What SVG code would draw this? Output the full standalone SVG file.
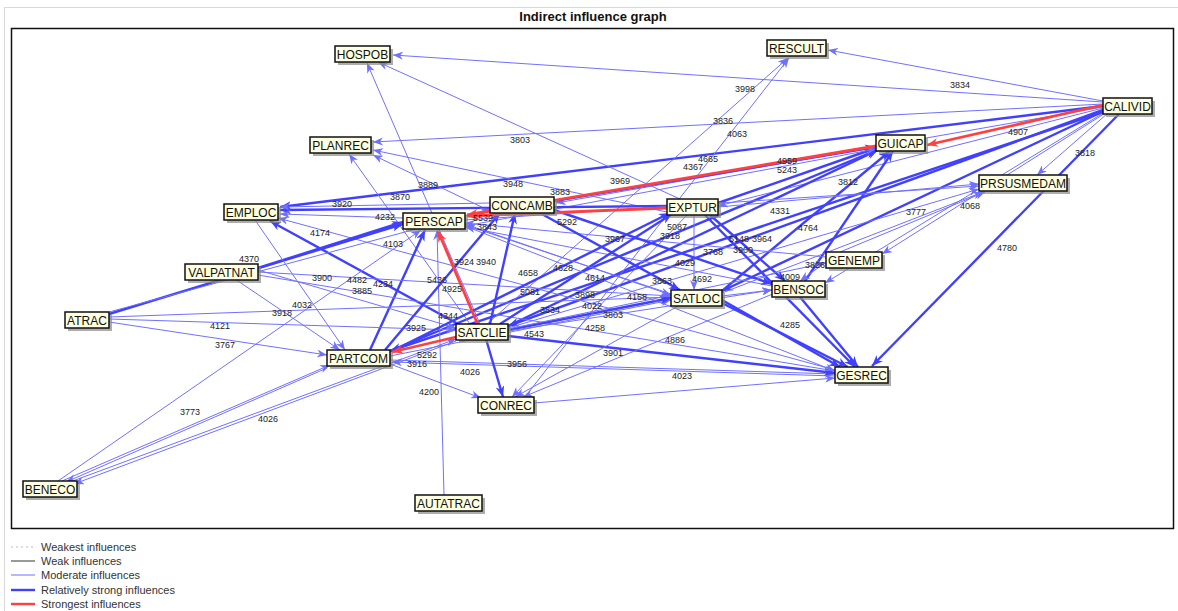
<svg xmlns="http://www.w3.org/2000/svg" width="1178" height="611" viewBox="0 0 1178 611">
<defs>
<marker id="am" markerUnits="userSpaceOnUse" markerWidth="10" markerHeight="8" viewBox="0 0 10 8" refX="10" refY="4" orient="auto"><path d="M0,0 L10,4 L0,8 L3,4 z" fill="#7070ff"/></marker>
<marker id="as" markerUnits="userSpaceOnUse" markerWidth="11" markerHeight="9" viewBox="0 0 10 8" refX="10" refY="4" orient="auto"><path d="M0,0 L10,4 L0,8 L3,4 z" fill="#4040ff"/></marker>
<marker id="ar" markerUnits="userSpaceOnUse" markerWidth="11" markerHeight="9" viewBox="0 0 10 8" refX="10" refY="4" orient="auto"><path d="M0,0 L10,4 L0,8 L3,4 z" fill="#ff4040"/></marker>
</defs>
<style>
.m{stroke:#7070ff;stroke-width:1;fill:none;marker-end:url(#am)}
.s{stroke:#4040ff;stroke-width:2.4;fill:none;marker-end:url(#as)}
.r{stroke:#ff4040;stroke-width:2.8;fill:none;marker-end:url(#ar)}
.lb{font-family:"Liberation Sans",Arial,sans-serif;font-size:9px;fill:#222;text-anchor:middle}
.sh{fill:#8a8a8a;opacity:0.7}
.bx{fill:#ffffe1;stroke:#111;stroke-width:1.5}
.nt{font-family:"Liberation Sans",Arial,sans-serif;font-size:12px;fill:#111;text-anchor:middle}
.lg{font-family:"Liberation Sans",Arial,sans-serif;font-size:11px;fill:#333}
</style>
<rect x="0" y="0" width="1178" height="611" fill="#fff"/>
<path d="M4.5,611 V7.5 H1178" fill="none" stroke="#d8d8d8" stroke-width="1"/>
<text x="593" y="21" font-family="Liberation Sans,Arial,sans-serif" font-size="13" font-weight="bold" text-anchor="middle" fill="#111">Indirect influence graph</text>
<rect x="11.5" y="28.5" width="1162" height="500" fill="#fff" stroke="#111" stroke-width="1.5"/>

<g id="connectors">
<line class="m" x1="1103" y1="101" x2="828" y2="50"/>
<line class="m" x1="1103" y1="102" x2="393" y2="55"/>
<line class="m" x1="1103" y1="104" x2="373" y2="142"/>
<line class="s" x1="1103" y1="106" x2="280" y2="207"/>
<line class="m" x1="1108" y1="113" x2="1037" y2="175"/>
<line class="s" x1="1120" y1="113" x2="872" y2="366"/>
<line class="s" x1="1103" y1="110" x2="508" y2="326"/>
<line class="s" x1="1104" y1="111" x2="722" y2="291"/>
<line class="m" x1="1103" y1="108" x2="718" y2="206"/>
<line class="m" x1="1105" y1="112" x2="825" y2="283"/>
<line class="m" x1="1107" y1="112" x2="882" y2="254"/>
<line class="m" x1="1103" y1="107" x2="556" y2="203"/>
<line class="s" x1="1103" y1="112" x2="390" y2="351"/>
<line class="s" x1="508" y1="326" x2="878" y2="150"/>
<line class="s" x1="390" y1="351" x2="877" y2="150"/>
<line class="s" x1="722" y1="291" x2="890" y2="151"/>
<line class="s" x1="718" y1="203" x2="876" y2="148"/>
<line class="s" x1="554" y1="201" x2="876" y2="147"/>
<line class="s" x1="805" y1="281" x2="893" y2="151"/>
<line class="m" x1="465" y1="226" x2="876" y2="149"/>
<line class="m" x1="680" y1="199" x2="378" y2="62"/>
<line class="m" x1="480" y1="324" x2="367" y2="63"/>
<line class="m" x1="667" y1="212" x2="373" y2="150"/>
<line class="m" x1="492" y1="212" x2="373" y2="155"/>
<line class="m" x1="470" y1="324" x2="349" y2="154"/>
<line class="m" x1="487" y1="324" x2="788" y2="58"/>
<line class="m" x1="525" y1="397" x2="789" y2="58"/>
<line class="s" x1="667" y1="206" x2="280" y2="210"/>
<line class="m" x1="490" y1="203" x2="280" y2="207"/>
<line class="m" x1="403" y1="218" x2="280" y2="214"/>
<line class="s" x1="460" y1="325" x2="270" y2="221"/>
<line class="m" x1="835" y1="370" x2="278" y2="218"/>
<line class="s" x1="109" y1="314" x2="403" y2="224"/>
<line class="s" x1="258" y1="268" x2="403" y2="222"/>
<line class="m" x1="109" y1="312" x2="490" y2="209"/>
<line class="s" x1="370" y1="350" x2="425" y2="230"/>
<line class="m" x1="444" y1="495" x2="437" y2="230"/>
<line class="m" x1="58" y1="481" x2="421" y2="230"/>
<line class="m" x1="671" y1="294" x2="465" y2="225"/>
<line class="m" x1="772" y1="286" x2="465" y2="227"/>
<line class="m" x1="826" y1="257" x2="465" y2="223"/>
<line class="m" x1="109" y1="322" x2="327" y2="355"/>
<line class="m" x1="235" y1="279" x2="340" y2="350"/>
<line class="m" x1="255" y1="220" x2="345" y2="350"/>
<line class="m" x1="62" y1="481" x2="330" y2="365"/>
<line class="m" x1="327" y1="368" x2="66" y2="482"/>
<line class="m" x1="835" y1="376" x2="392" y2="362"/>
<line class="m" x1="70" y1="482" x2="456" y2="339"/>
<line class="m" x1="456" y1="341" x2="74" y2="484"/>
<line class="m" x1="109" y1="319" x2="456" y2="330"/>
<line class="m" x1="109" y1="317" x2="671" y2="297"/>
<line class="m" x1="258" y1="272" x2="671" y2="296"/>
<line class="m" x1="258" y1="275" x2="835" y2="371"/>
<line class="m" x1="258" y1="270" x2="456" y2="328"/>
<line class="s" x1="385" y1="350" x2="500" y2="213"/>
<line class="s" x1="390" y1="352" x2="670" y2="213"/>
<line class="m" x1="390" y1="356" x2="671" y2="300"/>
<line class="m" x1="390" y1="360" x2="835" y2="374"/>
<line class="m" x1="390" y1="364" x2="481" y2="398"/>
<line class="s" x1="508" y1="330" x2="671" y2="298"/>
<line class="m" x1="508" y1="331" x2="772" y2="290"/>
<line class="m" x1="508" y1="329" x2="826" y2="263"/>
<line class="m" x1="508" y1="328" x2="979" y2="189"/>
<line class="s" x1="500" y1="324" x2="672" y2="214"/>
<line class="s" x1="490" y1="324" x2="515" y2="213"/>
<line class="s" x1="508" y1="336" x2="835" y2="373"/>
<line class="s" x1="486" y1="339" x2="503" y2="397"/>
<line class="m" x1="534" y1="403" x2="835" y2="378"/>
<line class="m" x1="688" y1="214" x2="512" y2="397"/>
<line class="m" x1="680" y1="305" x2="515" y2="397"/>
<line class="m" x1="775" y1="293" x2="523" y2="397"/>
<line class="s" x1="705" y1="215" x2="855" y2="367"/>
<line class="m" x1="694" y1="215" x2="694" y2="290"/>
<line class="m" x1="718" y1="207" x2="979" y2="184"/>
<line class="s" x1="710" y1="215" x2="785" y2="281"/>
<line class="s" x1="540" y1="213" x2="680" y2="290"/>
<line class="s" x1="554" y1="210" x2="772" y2="284"/>
<line class="s" x1="722" y1="300" x2="840" y2="367"/>
<line class="s" x1="722" y1="303" x2="848" y2="367"/>
<line class="m" x1="722" y1="296" x2="772" y2="290"/>
<line class="m" x1="722" y1="293" x2="983" y2="192"/>
<line class="s" x1="800" y1="297" x2="858" y2="367"/>
<line class="m" x1="826" y1="262" x2="800" y2="281"/>
<line class="m" x1="840" y1="252" x2="985" y2="192"/>
<line class="m" x1="465" y1="220" x2="979" y2="186"/>
<line class="m" x1="465" y1="224" x2="671" y2="295"/>
<line class="m" x1="465" y1="226" x2="835" y2="371"/>
<line class="r" x1="1103" y1="105" x2="927" y2="145"/>
<line class="r" x1="876" y1="146" x2="467" y2="215"/>
<line class="r" x1="667" y1="208" x2="467" y2="216"/>
<line class="r" x1="478" y1="325" x2="438" y2="231"/>
<line class="r" x1="456" y1="337" x2="392" y2="352"/>

<text class="lb" x="960" y="88">3834</text>
<text class="lb" x="745" y="92">3998</text>
<text class="lb" x="723" y="124">3836</text>
<text class="lb" x="737" y="137">4063</text>
<text class="lb" x="520" y="143">3803</text>
<text class="lb" x="1018" y="135">4907</text>
<text class="lb" x="708" y="162">4665</text>
<text class="lb" x="693" y="170">4367</text>
<text class="lb" x="787" y="164">4959</text>
<text class="lb" x="787" y="173">5243</text>
<text class="lb" x="1085" y="156">3818</text>
<text class="lb" x="848" y="185">3812</text>
<text class="lb" x="428" y="188">3889</text>
<text class="lb" x="513" y="187">3948</text>
<text class="lb" x="620" y="184">3969</text>
<text class="lb" x="560" y="195">3883</text>
<text class="lb" x="400" y="200">3870</text>
<text class="lb" x="342" y="207">3920</text>
<text class="lb" x="385" y="220">4232</text>
<text class="lb" x="320" y="236">4174</text>
<text class="lb" x="393" y="247">4103</text>
<text class="lb" x="249" y="262">4370</text>
<text class="lb" x="322" y="281">3900</text>
<text class="lb" x="357" y="283">4482</text>
<text class="lb" x="383" y="287">4234</text>
<text class="lb" x="362" y="294">3885</text>
<text class="lb" x="302" y="308">4032</text>
<text class="lb" x="282" y="316">3918</text>
<text class="lb" x="220" y="329">4121</text>
<text class="lb" x="225" y="348">3767</text>
<text class="lb" x="190" y="415">3773</text>
<text class="lb" x="268" y="422">4026</text>
<text class="lb" x="483" y="221">5539</text>
<text class="lb" x="487" y="230">3843</text>
<text class="lb" x="567" y="225">5292</text>
<text class="lb" x="615" y="242">3967</text>
<text class="lb" x="677" y="230">5087</text>
<text class="lb" x="670" y="239">3918</text>
<text class="lb" x="780" y="214">4331</text>
<text class="lb" x="808" y="231">4764</text>
<text class="lb" x="916" y="215">3777</text>
<text class="lb" x="970" y="209">4068</text>
<text class="lb" x="1007" y="251">4780</text>
<text class="lb" x="739" y="242">5148</text>
<text class="lb" x="762" y="242">3964</text>
<text class="lb" x="713" y="255">3768</text>
<text class="lb" x="743" y="253">3900</text>
<text class="lb" x="685" y="266">4029</text>
<text class="lb" x="702" y="282">4692</text>
<text class="lb" x="662" y="284">3863</text>
<text class="lb" x="815" y="268">3826</text>
<text class="lb" x="790" y="280">4009</text>
<text class="lb" x="790" y="328">4285</text>
<text class="lb" x="528" y="276">4658</text>
<text class="lb" x="563" y="271">4628</text>
<text class="lb" x="595" y="281">4614</text>
<text class="lb" x="530" y="295">5081</text>
<text class="lb" x="585" y="298">3898</text>
<text class="lb" x="592" y="309">4022</text>
<text class="lb" x="613" y="318">3803</text>
<text class="lb" x="550" y="313">3834</text>
<text class="lb" x="637" y="300">4158</text>
<text class="lb" x="595" y="331">4258</text>
<text class="lb" x="534" y="337">4543</text>
<text class="lb" x="675" y="343">4886</text>
<text class="lb" x="613" y="356">3901</text>
<text class="lb" x="682" y="379">4023</text>
<text class="lb" x="517" y="367">3956</text>
<text class="lb" x="470" y="375">4026</text>
<text class="lb" x="429" y="395">4200</text>
<text class="lb" x="417" y="367">3916</text>
<text class="lb" x="427" y="358">5292</text>
<text class="lb" x="416" y="331">3925</text>
<text class="lb" x="448" y="319">4344</text>
<text class="lb" x="437" y="283">5436</text>
<text class="lb" x="452" y="292">4925</text>
<text class="lb" x="464" y="265">3924</text>
<text class="lb" x="486" y="265">3940</text>
</g>

<g id="n-HOSPOB"><rect class="sh" x="338" y="49" width="55" height="16"/><rect class="bx" x="335" y="46" width="55" height="16"/><text class="nt" x="362.5" y="58.5">HOSPOB</text></g>
<g id="n-RESCULT"><rect class="sh" x="770" y="43" width="59" height="16"/><rect class="bx" x="767" y="40" width="59" height="16"/><text class="nt" x="796.5" y="52.5">RESCULT</text></g>
<g id="n-CALIVID"><rect class="sh" x="1106" y="101" width="49" height="16"/><rect class="bx" x="1103" y="98" width="49" height="16"/><text class="nt" x="1127.5" y="110.5">CALIVID</text></g>
<g id="n-GUICAP"><rect class="sh" x="879" y="138" width="49" height="16"/><rect class="bx" x="876" y="135" width="49" height="16"/><text class="nt" x="900.5" y="147.5">GUICAP</text></g>
<g id="n-PLANREC"><rect class="sh" x="313" y="140" width="61" height="16"/><rect class="bx" x="310" y="137" width="61" height="16"/><text class="nt" x="340.5" y="149.5">PLANREC</text></g>
<g id="n-PRSUSMEDAM"><rect class="sh" x="982" y="178" width="88" height="16"/><rect class="bx" x="979" y="175" width="88" height="16"/><text class="nt" x="1023" y="187.5">PRSUSMEDAM</text></g>
<g id="n-CONCAMB"><rect class="sh" x="493" y="200" width="64" height="16"/><rect class="bx" x="490" y="197" width="64" height="16"/><text class="nt" x="522" y="209.5">CONCAMB</text></g>
<g id="n-EXPTUR"><rect class="sh" x="670" y="202" width="51" height="16"/><rect class="bx" x="667" y="199" width="51" height="16"/><text class="nt" x="692.5" y="211.5">EXPTUR</text></g>
<g id="n-EMPLOC"><rect class="sh" x="227" y="207" width="54" height="16"/><rect class="bx" x="224" y="204" width="54" height="16"/><text class="nt" x="251" y="216.5">EMPLOC</text></g>
<g id="n-PERSCAP"><rect class="sh" x="406" y="216" width="62" height="16"/><rect class="bx" x="403" y="213" width="62" height="16"/><text class="nt" x="434" y="225.5">PERSCAP</text></g>
<g id="n-GENEMP"><rect class="sh" x="829" y="255" width="56" height="16"/><rect class="bx" x="826" y="252" width="56" height="16"/><text class="nt" x="854" y="264.5">GENEMP</text></g>
<g id="n-VALPATNAT"><rect class="sh" x="188" y="267" width="73" height="16"/><rect class="bx" x="185" y="264" width="73" height="16"/><text class="nt" x="221.5" y="276.5">VALPATNAT</text></g>
<g id="n-BENSOC"><rect class="sh" x="775" y="284" width="53" height="16"/><rect class="bx" x="772" y="281" width="53" height="16"/><text class="nt" x="798.5" y="293.5">BENSOC</text></g>
<g id="n-SATLOC"><rect class="sh" x="674" y="293" width="51" height="16"/><rect class="bx" x="671" y="290" width="51" height="16"/><text class="nt" x="696.5" y="302.5">SATLOC</text></g>
<g id="n-ATRAC"><rect class="sh" x="68" y="315" width="44" height="16"/><rect class="bx" x="65" y="312" width="44" height="16"/><text class="nt" x="87" y="324.5">ATRAC</text></g>
<g id="n-SATCLIE"><rect class="sh" x="459" y="327" width="52" height="16"/><rect class="bx" x="456" y="324" width="52" height="16"/><text class="nt" x="482" y="336.5">SATCLIE</text></g>
<g id="n-PARTCOM"><rect class="sh" x="330" y="353" width="63" height="16"/><rect class="bx" x="327" y="350" width="63" height="16"/><text class="nt" x="358.5" y="362.5">PARTCOM</text></g>
<g id="n-GESREC"><rect class="sh" x="838" y="370" width="53" height="16"/><rect class="bx" x="835" y="367" width="53" height="16"/><text class="nt" x="861.5" y="379.5">GESREC</text></g>
<g id="n-CONREC"><rect class="sh" x="481" y="400" width="56" height="16"/><rect class="bx" x="478" y="397" width="56" height="16"/><text class="nt" x="506" y="409.5">CONREC</text></g>
<g id="n-BENECO"><rect class="sh" x="26" y="484" width="54" height="16"/><rect class="bx" x="23" y="481" width="54" height="16"/><text class="nt" x="50" y="493.5">BENECO</text></g>
<g id="n-AUTATRAC"><rect class="sh" x="418" y="498" width="67" height="16"/><rect class="bx" x="415" y="495" width="67" height="16"/><text class="nt" x="448.5" y="507.5">AUTATRAC</text></g>

<g id="legend">
<line x1="11" y1="547" x2="35" y2="547" stroke="#bbb" stroke-width="1" stroke-dasharray="2,3"/>
<line x1="11" y1="561" x2="35" y2="561" stroke="#333" stroke-width="1"/>
<line x1="11" y1="575" x2="35" y2="575" stroke="#7070ff" stroke-width="1"/>
<line x1="11" y1="590" x2="35" y2="590" stroke="#4040ff" stroke-width="2.4"/>
<line x1="11" y1="604" x2="35" y2="604" stroke="#ff4040" stroke-width="2.4"/>
<text class="lg" x="41" y="551">Weakest influences</text>
<text class="lg" x="41" y="565">Weak influences</text>
<text class="lg" x="41" y="579">Moderate influences</text>
<text class="lg" x="41" y="594">Relatively strong influences</text>
<text class="lg" x="41" y="608">Strongest influences</text>
</g>
</svg>
